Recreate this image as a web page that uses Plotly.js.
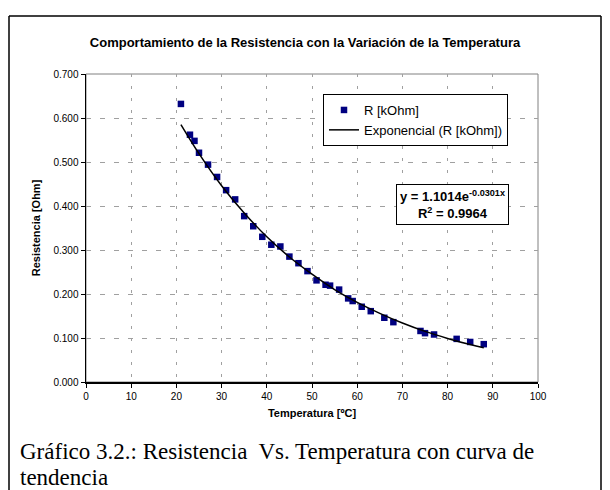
<!DOCTYPE html>
<html>
<head>
<meta charset="utf-8">
<script src="https://cdn.plot.ly/plotly-3.0.1.min.js"></script>
<style>html,body{margin:0;padding:0;background:#fff;}#chart{width:610px;height:490px;}</style>
</head>
<body>
<div id="chart"></div>
<script>
// Measured data (Temperatura [ºC], R [kOhm])
var temperatura = [21, 23, 24, 25, 27, 29, 31, 33, 35, 37, 39, 41, 43, 45, 47, 49, 51, 53, 54, 56, 58, 59, 61, 63, 66, 68, 74, 75, 77, 82, 85, 88];
var resistencia = [0.632, 0.562, 0.548, 0.521, 0.494, 0.466, 0.436, 0.415, 0.377, 0.354, 0.330, 0.312, 0.308, 0.285, 0.270, 0.252, 0.231, 0.221, 0.219, 0.210, 0.190, 0.184, 0.171, 0.161, 0.146, 0.136, 0.116, 0.111, 0.108, 0.098, 0.091, 0.086];
// Trend line points
var trendX = [21, 25, 30, 35, 40, 45, 50, 55, 60, 65, 70, 75, 80, 85, 88];
var trendY = [0.585, 0.519, 0.446, 0.384, 0.330, 0.284, 0.245, 0.210, 0.181, 0.156, 0.134, 0.115, 0.099, 0.085, 0.078];
var xTicks = [0, 10, 20, 30, 40, 50, 60, 70, 80, 90, 100];
var yTicks = [0.0, 0.1, 0.2, 0.3, 0.4, 0.5, 0.6, 0.7];

var L = 86, R = 538, T = 74, B = 382;
function px(x){ return (x - L) / (R - L); }
function py(y){ return (B - y) / (B - T); }

var traces = [
  {x: temperatura, y: resistencia, type: 'scatter', mode: 'markers', name: 'R [kOhm]',
   marker: {symbol: 'square', size: 6.5, color: '#000080'}},
  {x: trendX, y: trendY, type: 'scatter', mode: 'lines', name: 'Exponencial (R [kOhm])',
   line: {color: '#000000', width: 1.5, shape: 'spline'}}
];

var layout = {
  width: 610, height: 490,
  margin: {l: L, r: 610 - R, t: T, b: 490 - B, pad: 0},
  paper_bgcolor: '#ffffff', plot_bgcolor: '#ffffff',
  font: {family: 'Arial, Liberation Sans, sans-serif', color: '#000'},
  title: {text: '<b>Comportamiento de la Resistencia con la Variación de la Temperatura</b>',
          font: {size: 13, color: '#000'}, x: 0.5, xanchor: 'center', y: 1 - 42/490, yanchor: 'middle'},
  xaxis: {range: [0, 100], tickvals: xTicks, ticktext: xTicks.map(String),
          showgrid: true, gridcolor: '#a0a0a0', griddash: '3px,9px', gridwidth: 1,
          showline: true, linecolor: '#000', linewidth: 1.5, zeroline: false,
          ticks: 'outside', ticklen: 4, tickcolor: '#000', tickfont: {size: 10},
          title: {text: '<b>Temperatura [ºC]</b>', font: {size: 11}, standoff: 9}},
  yaxis: {range: [0, 0.7], tickvals: yTicks, tickformat: '.3f',
          showgrid: true, gridcolor: '#a0a0a0', griddash: '5px,9px', gridwidth: 1,
          showline: true, linecolor: '#000', linewidth: 1.5, zeroline: false,
          ticks: 'outside', ticklen: 4, tickcolor: '#000', tickfont: {size: 10},
          title: {text: '<b>Resistencia [Ohm]</b>', font: {size: 11}, standoff: 10}},
  showlegend: true,
  legend: {x: px(323), y: py(94), xanchor: 'left', yanchor: 'top',
           bordercolor: '#000', borderwidth: 1, bgcolor: '#fff',
           font: {size: 13}, tracegroupgap: 0, itemwidth: 30},
  annotations: [
    {xref: 'paper', yref: 'paper', x: px(452.5), y: py(204), xanchor: 'center', yanchor: 'middle',
     showarrow: false, text: '<b>y = 1.1014e<sup>-0.0301x</sup></b><br><b>R<sup>2</sup> = 0.9964</b>',
     font: {size: 13, color: '#000'}, bordercolor: '#000', borderwidth: 1, borderpad: 3, bgcolor: '#fff', align: 'center'},
    {xref: 'paper', yref: 'paper', x: px(18), y: py(451), xanchor: 'left', yanchor: 'middle',
     showarrow: false, text: 'Gráfico 3.2.: Resistencia&nbsp; Vs. Temperatura con curva de',
     font: {family: 'Liberation Serif, Times New Roman, serif', size: 23, color: '#000'}, align: 'left'},
    {xref: 'paper', yref: 'paper', x: px(18), y: py(477.5), xanchor: 'left', yanchor: 'middle',
     showarrow: false, text: 'tendencia',
     font: {family: 'Liberation Serif, Times New Roman, serif', size: 23, color: '#000'}, align: 'left'}
  ],
  shapes: [
    {type: 'rect', xref: 'paper', yref: 'paper', x0: 0, x1: 1, y0: 0, y1: 1,
     line: {color: '#808080', width: 1}, layer: 'below'},
    {type: 'line', xref: 'paper', yref: 'paper', x0: px(9), x1: px(9), y0: py(16), y1: py(492), line: {color: '#000', width: 1.5}},
    {type: 'line', xref: 'paper', yref: 'paper', x0: px(601), x1: px(601), y0: py(16), y1: py(492), line: {color: '#000', width: 1.5}},
    {type: 'line', xref: 'paper', yref: 'paper', x0: px(9), x1: px(601), y0: py(16), y1: py(16), line: {color: '#000', width: 1.5}}
  ]
};

Plotly.newPlot('chart', traces, layout, {displayModeBar: false, staticPlot: true});
</script>
</body>
</html>
